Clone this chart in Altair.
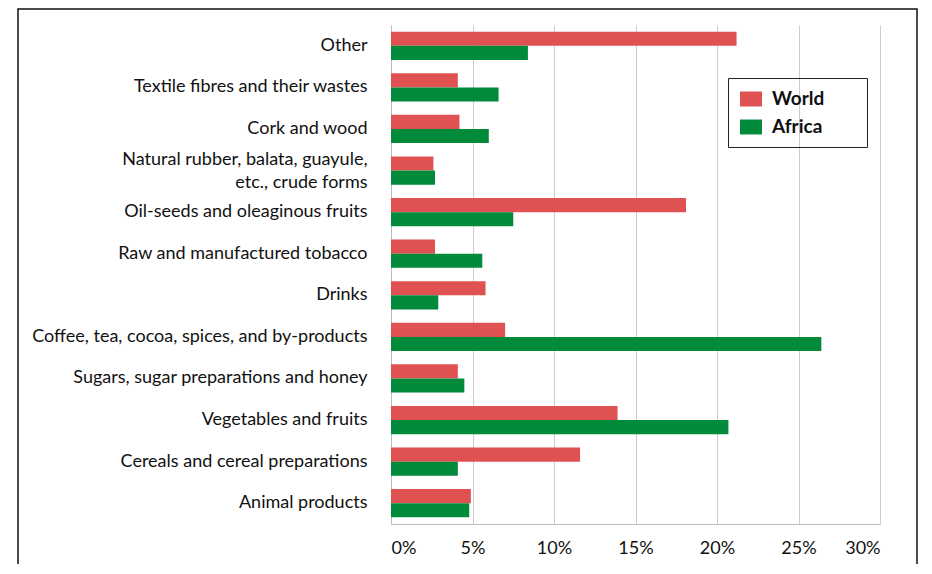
import altair as alt
import pandas as pd

categories = [
    "Other",
    "Textile fibres and their wastes",
    "Cork and wood",
    "Natural rubber, balata, guayule,|etc., crude forms",
    "Oil-seeds and oleaginous fruits",
    "Raw and manufactured tobacco",
    "Drinks",
    "Coffee, tea, cocoa, spices, and by-products",
    "Sugars, sugar preparations and honey\u00a0",
    "Vegetables and fruits",
    "Cereals and cereal preparations",
    "Animal products",
]
world = [21.2, 4.1, 4.2, 2.6, 18.1, 2.7, 5.8, 7.0, 4.1, 13.9, 11.6, 4.9]
africa = [8.4, 6.6, 6.0, 2.7, 7.5, 5.6, 2.9, 26.4, 4.5, 20.7, 4.1, 4.8]
series = ["World", "Africa"]
colors = ["#E05252", "#008A3A"]

rows = []
for c, w, a in zip(categories, world, africa):
    rows.append({"category": c, "series": "World", "value": w})
    rows.append({"category": c, "series": "Africa", "value": a})
df = pd.DataFrame(rows)

FONT = "Lato"
pad_chars = " \u2800\u2800"

bars = alt.Chart(df).mark_bar().encode(
    y=alt.Y("category:N", sort=categories,
            scale=alt.Scale(paddingInner=0.32, paddingOuter=0.16),
            axis=alt.Axis(title=None, ticks=False, labelPadding=24,
                          labelFontSize=18, labelFont=FONT, labelColor="#111",
                          labelLimit=400, domainColor="#bbbbbb", labelLineHeight=23,
                          labelOffset={"condition": {"test": "indexof(datum.value, '|') >= 0",
                                                     "value": -11}, "value": 0},
                          labelExpr="split(datum.label, '|')")),
    yOffset=alt.YOffset("series:N", sort=series, scale=alt.Scale(paddingInner=0, paddingOuter=0)),
    x=alt.X("value:Q", scale=alt.Scale(domain=[0, 30]),
            axis=alt.Axis(title=None, values=[0, 5, 10, 15, 20, 25, 30], ticks=False,
                          labelExpr="datum.value + '%'", labelFontSize=18,
                          labelFont=FONT, labelColor="#111", labelPadding=15,
                          gridColor="#cccccc", domainColor="#bbbbbb")),
    color=alt.Color("series:N", sort=series,
                    scale=alt.Scale(domain=series, range=colors),
                    legend=alt.Legend(title=None, orient="none", legendX=337, legendY=53,
                                      strokeColor="#222", padding=10,
                                      symbolType="M-1,-0.68H1V0.68H-1Z", symbolSize=484,
                                      symbolStrokeWidth=0, labelFontSize=19,
                                      labelFontWeight="bold", labelFont=FONT,
                                      labelColor="#111", rowPadding=7, symbolOffset=2,
                                      labelOffset=10,
                                      labelExpr="datum.label + '" + pad_chars + "'")),
)

frame = alt.Chart(pd.DataFrame({"a": [0]})).mark_rect(
    fill=None, stroke="#111", strokeWidth=1.5, clip=False
).encode(
    x=alt.value(-373), x2=alt.value(526), y=alt.value(-16), y2=alt.value(700)
)

chart = alt.layer(frame, bars).properties(
    width=489, height=499,
    autosize=alt.AutoSizeParams(type="none"),
    padding={"left": 383, "top": 17, "right": 40, "bottom": 40},
).configure_view(stroke=None)

chart.save("out.html", embed_options={"renderer": "svg", "actions": False})
